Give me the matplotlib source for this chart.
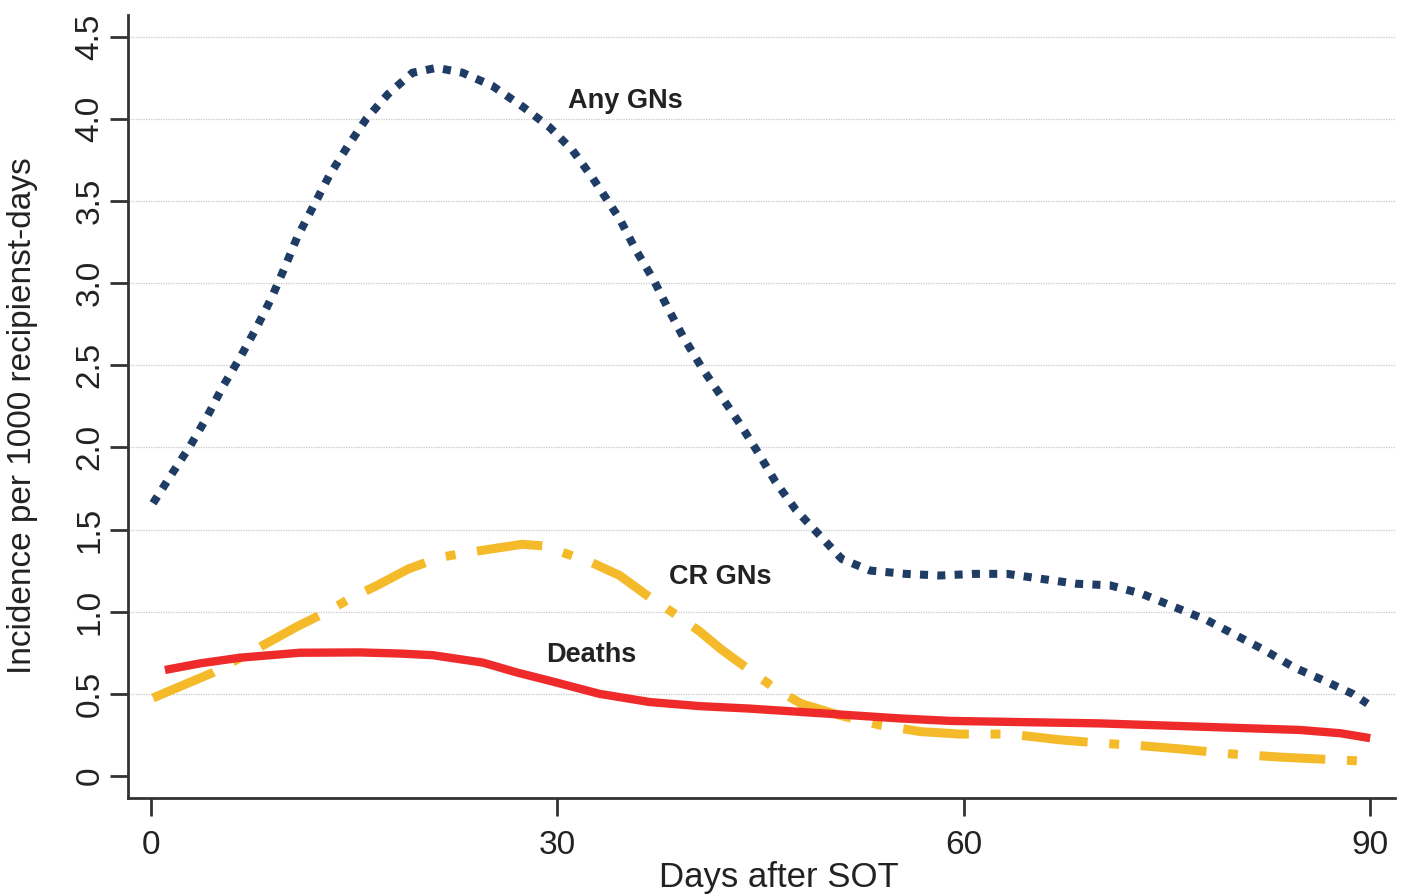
import matplotlib
matplotlib.use("Agg")
import matplotlib.pyplot as plt

plt.rcParams['font.family'] = ['Liberation Sans', 'DejaVu Sans']

# Any GNs (dotted)
any_x = [0.15, 1.55, 2.9, 4.1, 5.3, 6.6, 7.8, 8.9, 9.9, 10.8, 12.0, 13.2, 14.5, 15.9,
         17.5, 19.3, 21.1, 23.0, 25.2, 27.5, 29.4, 31.1, 32.6, 34.6, 35.8, 37.1, 38.2,
         39.3, 40.7, 42.1, 43.5, 44.8, 46.1, 47.6, 49.3, 51.0, 53.1, 55.7, 58.2, 60.8,
         63.2, 65.7, 68.3, 70.8, 73.1, 75.5, 77.9, 80.0, 82.1, 84.4, 86.6, 88.7, 89.8]
any_y = [1.66, 1.84, 2.01, 2.18, 2.37, 2.55, 2.73, 2.91, 3.10, 3.28, 3.47, 3.66, 3.83, 4.00,
         4.15, 4.28, 4.31, 4.28, 4.20, 4.07, 3.95, 3.81, 3.64, 3.39, 3.20, 3.02, 2.84,
         2.67, 2.48, 2.31, 2.14, 1.97, 1.79, 1.62, 1.47, 1.32, 1.25, 1.23, 1.22, 1.23,
         1.23, 1.20, 1.17, 1.16, 1.11, 1.03, 0.95, 0.86, 0.77, 0.66, 0.58, 0.50, 0.44]

# CR GNs (dash-dot)
cr_x = [0.15, 2.3, 4.6, 6.6, 8.6, 10.8, 13, 14.7, 16.7, 19, 21.3, 23.4, 25.8, 27.4,
        29, 30.4, 32.5, 34.6, 36.6, 38.6, 40.5, 42.1, 44.1, 46.1, 48.0, 50.8, 53.8,
        56.8, 59.7, 63.4, 67.1, 70, 73, 75.9, 79.6, 83.3, 87, 89.6]
cr_y = [0.475, 0.55, 0.63, 0.72, 0.81, 0.91, 1.0, 1.08, 1.16, 1.26, 1.33, 1.36, 1.39, 1.41,
        1.40, 1.36, 1.30, 1.22, 1.10, 0.99, 0.88, 0.77, 0.65, 0.53, 0.44, 0.37, 0.31,
        0.27, 0.255, 0.255, 0.22, 0.20, 0.185, 0.165, 0.135, 0.115, 0.10, 0.09]

# Deaths (solid)
death_x = [1.03, 3.6, 6.6, 11, 15.4, 18.4, 20.8, 24.5, 27, 29.4, 33.1, 36.8, 40.5, 44.2,
           47.9, 51.6, 55.3, 59, 62.7, 66.3, 70, 73.7, 77.4, 81.1, 84.8, 87.8, 90]
death_y = [0.645, 0.685, 0.72, 0.75, 0.752, 0.745, 0.735, 0.69, 0.63, 0.58, 0.50, 0.45, 0.425,
           0.41, 0.39, 0.37, 0.35, 0.335, 0.33, 0.325, 0.32, 0.31, 0.30, 0.29, 0.28, 0.26, 0.23]

x_ticks = [0, 30, 60, 90]
y_ticks = [0, 0.5, 1.0, 1.5, 2.0, 2.5, 3.0, 3.5, 4.0, 4.5]
y_labels = ['0', '0.5', '1.0', '1.5', '2.0', '2.5', '3.0', '3.5', '4.0', '4.5']

fig = plt.figure(figsize=(14.03, 8.96), dpi=100)
ax = fig.add_axes([0.0912, 0.1094, 0.9028, 0.8736])

for g in y_ticks[1:]:
    ax.axhline(g, color='#c8c8c8', lw=0.9, ls=(0, (1, 1)), zorder=0)

ax.plot(any_x, any_y, color='#1f3d64', lw=5.8, ls=(0, (1, 1.15)), dash_capstyle='butt')
ax.plot(cr_x, cr_y, color='#f5ba2a', lw=6.5, ls=(0, (7.3, 2.4, 1.1, 2.4)), dash_capstyle='butt')
ax.plot(death_x, death_y, color='#ee2a2a', lw=6, solid_capstyle='butt')

ax.text(35, 4.11, 'Any GNs', fontsize=19.5, fontweight='bold', ha='center', va='center', color='#222222')
ax.text(42, 1.21, 'CR GNs', fontsize=19.5, fontweight='bold', ha='center', va='center', color='#222222')
ax.text(32.5, 0.735, 'Deaths', fontsize=19.5, fontweight='bold', ha='center', va='center', color='#222222')

ax.set_xlim(-1.7, 91.8)
ax.set_ylim(-0.134, 4.63)
ax.set_xticks(x_ticks)
ax.set_yticks(y_ticks)
ax.set_yticklabels(y_labels, rotation=90, va='center')
ax.tick_params(axis='both', labelsize=24, width=2, length=13, color='#333333', labelcolor='#222222')
ax.tick_params(axis='x', pad=10)
ax.tick_params(axis='y', pad=3)

for s in ['top', 'right']:
    ax.spines[s].set_visible(False)
for s in ['left', 'bottom']:
    ax.spines[s].set_linewidth(2)
    ax.spines[s].set_color('#333333')

ax.set_xlabel('Days after SOT', fontsize=25, color='#222222')
ax.set_ylabel('Incidence per 1000 recipienst-days', fontsize=24, color='#222222')
ax.xaxis.set_label_coords(0.514, -0.08)
ax.yaxis.set_label_coords(-0.071, 0.489)

fig.savefig('out.png', dpi=100)
